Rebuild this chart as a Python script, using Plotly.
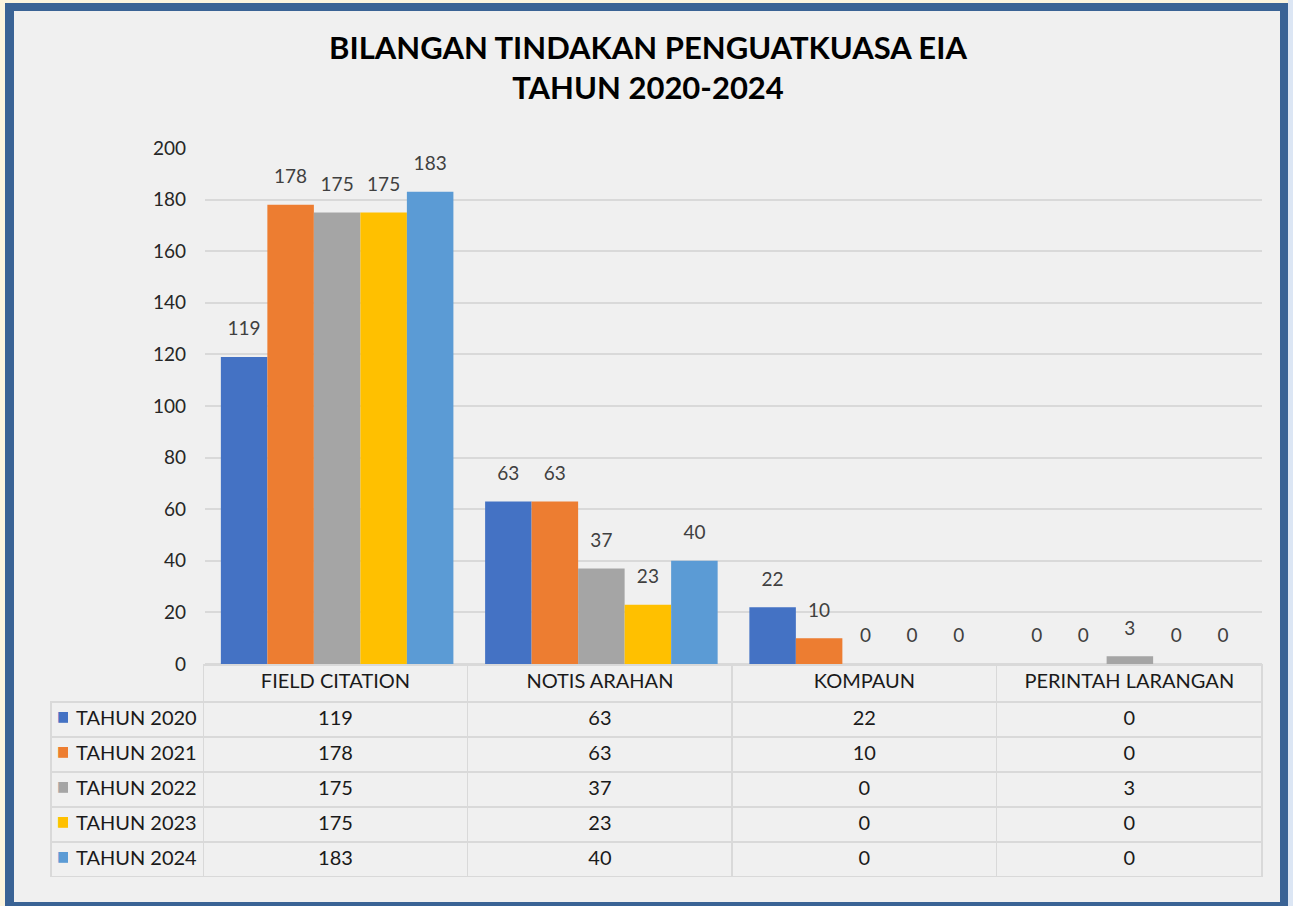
import plotly.graph_objects as go

W, H = 1293, 906

categories = ["FIELD CITATION", "NOTIS ARAHAN", "KOMPAUN", "PERINTAH LARANGAN"]
series_names = ["TAHUN 2020", "TAHUN 2021", "TAHUN 2022", "TAHUN 2023", "TAHUN 2024"]
v2020 = [119, 63, 22, 0]
v2021 = [178, 63, 10, 0]
v2022 = [175, 37, 0, 3]
v2023 = [175, 23, 0, 0]
v2024 = [183, 40, 0, 0]
series_values = [v2020, v2021, v2022, v2023, v2024]
colors = ["#4472C4", "#ED7D31", "#A5A5A5", "#FFC000", "#5B9BD5"]
y_ticks = [0, 20, 40, 60, 80, 100, 120, 140, 160, 180, 200]

FONT = "Lato"
NB = "\u00a0"

def px_x(p):
    return p / W

def px_y(p):
    return 1 - p / H

fig = go.Figure()

for name, vals, col in zip(series_names, series_values, colors):
    fig.add_trace(go.Bar(
        x=categories, y=vals, name=name,
        marker=dict(color=col, line=dict(width=0)),
        text=vals,
        texttemplate="<span style='font-size:19px'>%{y}</span><br> ",
        textposition="outside",
        textfont=dict(family=FONT, size=12, color="#404040"),
        cliponaxis=False, showlegend=False,
    ))

# data table grid with the category columns
header_vals = [""] + [c.replace(" ", NB) for c in categories]
cols = [[""] * len(series_names)] + [[vals[i] for vals in series_values] for i in range(len(categories))]
tbl_y = [px_y(878), px_y(665)]
fig.add_trace(go.Table(
    domain=dict(x=[px_x(51), px_x(1262)], y=tbl_y),
    columnwidth=[152, 264, 264, 264, 265],
    header=dict(
        values=header_vals,
        height=37,
        fill=dict(color=["rgba(0,0,0,0)"] + ["#F0F0F0"] * 4),
        line=dict(color=["rgba(0,0,0,0)"] + ["#D9D9D9"] * 4, width=1.5),
        align="center",
        font=dict(family=FONT, size=20, color="#1a1a1a"),
    ),
    cells=dict(
        values=cols,
        height=35,
        fill=dict(color="#F0F0F0"),
        line=dict(color="#D9D9D9", width=1.5),
        align="center",
        font=dict(family=FONT, size=20, color="#1a1a1a"),
    ),
))
# legend keys and series names in the first column
fig.add_trace(go.Table(
    domain=dict(x=[px_x(49), px_x(213)], y=tbl_y),
    columnwidth=[19, 145],
    header=dict(values=["", ""], height=37, fill=dict(color="rgba(0,0,0,0)"),
                line=dict(color="rgba(0,0,0,0)", width=0)),
    cells=dict(
        values=[["■"] * len(series_names), [n.replace(" ", NB) for n in series_names]],
        height=35,
        fill=dict(color="rgba(0,0,0,0)"),
        line=dict(color="rgba(0,0,0,0)", width=0),
        align="left",
        font=dict(family=["DejaVu Sans", FONT], size=[14, 20],
                  color=[colors, ["#1a1a1a"] * len(series_names)]),
    ),
))

shapes = [
    dict(type="rect", xref="paper", yref="paper", x0=px_x(1288), x1=1, y0=0, y1=1,
         fillcolor="#DCE6F4", line=dict(width=0), layer="below"),
    dict(type="rect", xref="paper", yref="paper", x0=px_x(5), x1=px_x(1288), y0=0, y1=px_y(3),
         fillcolor="#3A6395", line=dict(width=0), layer="below"),
    dict(type="rect", xref="paper", yref="paper", x0=px_x(14), x1=px_x(1280), y0=px_y(902), y1=px_y(11),
         fillcolor="#F0F0F0", line=dict(width=0), layer="below"),
]

fig.update_layout(
    width=W, height=H,
    margin=dict(l=0, r=0, t=0, b=0, pad=0),
    paper_bgcolor="#FBF4DE",
    plot_bgcolor="rgba(0,0,0,0)",
    barmode="group", bargap=0.12, bargroupgap=0,
    shapes=shapes,
    title=dict(
        text="<b>BILANGAN TINDAKAN PENGUATKUASA EIA<br>TAHUN 2020-2024</b>",
        x=648 / W, xanchor="center", y=px_y(59), yanchor="middle",
        font=dict(family=FONT, size=31, color="#000000"),
    ),
    xaxis=dict(domain=[px_x(205), px_x(1262)], showticklabels=False, showgrid=False,
               showline=False, zeroline=False, ticks="", automargin=False),
    yaxis=dict(domain=[px_y(664), px_y(148)], range=[0, 200], tickvals=y_ticks,
               showgrid=True, gridcolor="#D9D9D9", gridwidth=1.5,
               zeroline=True, zerolinecolor="#D9D9D9", zerolinewidth=1.5,
               showline=False, ticks="", ticklabelstandoff=18, automargin=False,
               tickfont=dict(family=FONT, size=19, color="#262626")),
)

post = ("document.body.style.margin='0';"
        "var d=document.getElementById('{plot_id}');"
        "d.style.position='fixed';d.style.left='0px';d.style.top='0px';d.style.zIndex='10';")
fig.write_html("out.html", config={"displayModeBar": False}, post_script=post)
